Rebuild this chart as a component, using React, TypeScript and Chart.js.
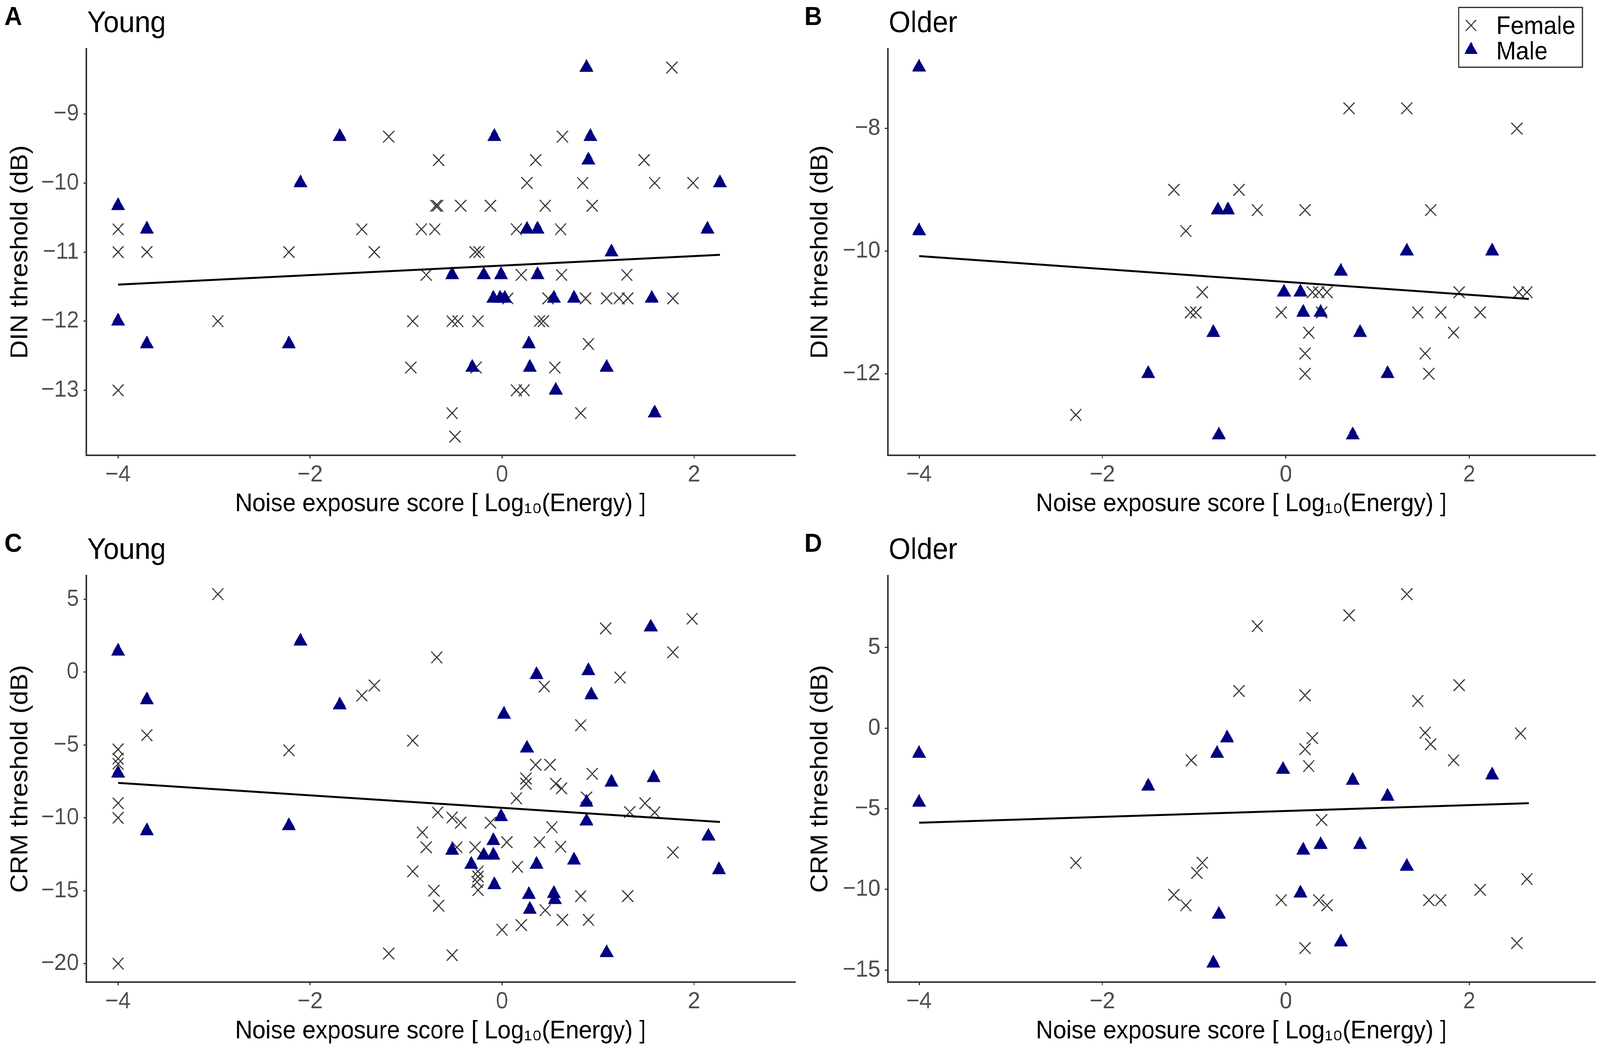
import React, { useEffect, useRef } from "react";
import { Chart, registerables } from "chart.js";

Chart.register(...registerables);

type Pt = [number, number];

// shared x axis
const xTicks = [-4, -2, 0, 2];
const xTitle = "Noise exposure score [ Log\u2081\u2080(Energy) ]";

// A: DIN, young
const dinYoungTicks = [-13, -12, -11, -10, -9];
const dinYoungMale: Pt[] = [
  [0.88, -8.33], [-1.69, -9.33], [-0.08, -9.33], [0.92, -9.33], [0.9, -9.67],
  [-2.1, -10], [2.27, -10], [-4, -10.33], [-3.7, -10.67], [0.26, -10.67],
  [0.37, -10.67], [2.14, -10.67], [1.14, -11], [-0.52, -11.33], [-0.19, -11.33],
  [-0.01, -11.33], [0.37, -11.33], [-0.09, -11.67], [-0.02, -11.67], [0.03, -11.67],
  [0.54, -11.67], [0.75, -11.67], [1.56, -11.67], [-4, -12], [-3.7, -12.33],
  [-2.22, -12.33], [0.28, -12.33], [-0.31, -12.67], [0.29, -12.67], [1.09, -12.67],
  [0.56, -13], [1.59, -13.33],
];
const dinYoungFemale: Pt[] = [
  [1.77, -8.33], [-1.18, -9.33], [0.63, -9.33], [-0.66, -9.67], [0.35, -9.67],
  [1.48, -9.67], [0.26, -10], [0.84, -10], [1.59, -10], [1.99, -10],
  [-0.67, -10.33], [-0.69, -10.33], [-0.43, -10.33], [-0.12, -10.33], [0.45, -10.33],
  [0.94, -10.33], [-4, -10.67], [-1.46, -10.67], [-0.84, -10.67], [-0.7, -10.67],
  [0.15, -10.67], [0.61, -10.67], [-4, -11], [-3.7, -11], [-2.22, -11],
  [-1.33, -11], [-0.28, -11], [-0.24, -11], [-0.79, -11.33], [0.2, -11.33],
  [0.62, -11.33], [1.3, -11.33], [0.06, -11.67], [0.48, -11.67], [0.87, -11.67],
  [1.09, -11.67], [1.22, -11.67], [1.31, -11.67], [1.78, -11.67], [-2.96, -12],
  [-0.93, -12], [-0.52, -12], [-0.46, -12], [-0.25, -12], [0.39, -12],
  [0.43, -12], [0.9, -12.33], [-0.95, -12.67], [-0.27, -12.67], [0.55, -12.67],
  [-4, -13], [0.15, -13], [0.23, -13], [-0.52, -13.33], [0.82, -13.33],
  [-0.49, -13.67],
];
const dinYoungFit: Pt[] = [[-4, -11.47], [2.27, -11.04]];

// B: DIN, older
const dinOlderTicks = [-12, -10, -8];
const dinOlderMale: Pt[] = [
  [-4, -7], [-4, -9.67], [-0.74, -9.33], [-0.63, -9.33], [1.32, -10],
  [2.25, -10], [0.6, -10.33], [-0.02, -10.67], [0.16, -10.67], [0.19, -11],
  [0.38, -11], [-0.79, -11.33], [0.81, -11.33], [-1.5, -12], [1.11, -12],
  [-0.73, -13], [0.73, -13],
];
const dinOlderFemale: Pt[] = [
  [0.69, -7.67], [1.32, -7.67], [2.52, -8], [-1.22, -9], [-0.51, -9],
  [-0.31, -9.33], [0.21, -9.33], [1.58, -9.33], [-1.09, -9.67], [-0.91, -10.67],
  [0.29, -10.67], [0.36, -10.67], [0.45, -10.67], [1.89, -10.67], [2.54, -10.67],
  [2.63, -10.67], [-1.04, -11], [-0.98, -11], [-0.05, -11], [0.39, -11],
  [1.44, -11], [1.69, -11], [2.12, -11], [0.25, -11.33], [1.83, -11.33],
  [0.21, -11.67], [1.52, -11.67], [0.21, -12], [1.56, -12], [-2.29, -12.67],
];
const dinOlderFit: Pt[] = [[-4, -10.08], [2.65, -10.78]];

// C: CRM, young
const crmYoungTicks = [-20, -15, -10, -5, 0, 5];
const crmYoungMale: Pt[] = [
  [-4, 1.43], [-2.1, 2.12], [1.55, 3.09], [0.36, -0.18], [0.9, 0.09],
  [-3.7, -1.91], [0.93, -1.57], [-1.69, -2.26], [0.02, -2.9], [0.26, -5.22],
  [-4, -6.94], [1.58, -7.25], [1.14, -7.56], [0.88, -8.94], [-0.01, -9.93],
  [0.88, -10.23], [-2.22, -10.55], [-3.7, -10.9], [2.15, -11.26], [-0.09, -11.57],
  [-0.52, -12.24], [-0.19, -12.57], [-0.09, -12.57], [0.75, -12.91], [-0.32, -13.2],
  [0.36, -13.2], [2.26, -13.57], [-0.08, -14.6], [0.28, -15.27], [0.54, -15.2],
  [0.55, -15.62], [0.29, -16.29], [1.09, -19.26],
];
const crmYoungFemale: Pt[] = [
  [-2.96, 5.35], [1.98, 3.66], [1.08, 3.0], [1.78, 1.36], [-0.68, 1.01],
  [1.23, -0.37], [0.44, -0.99], [-1.33, -0.92], [-1.46, -1.61], [0.82, -3.64],
  [-3.7, -4.33], [-0.93, -4.7], [-2.22, -5.37], [-4, -5.3], [-4, -5.94],
  [-4, -6.29], [0.35, -6.36], [0.5, -6.36], [0.94, -6.98], [0.25, -7.3],
  [0.25, -7.66], [0.56, -7.66], [0.62, -7.98], [0.15, -8.66], [0.88, -8.6],
  [-4, -8.99], [1.49, -9.0], [1.33, -9.6], [1.59, -9.63], [-0.67, -9.63],
  [-4, -10.0], [-0.52, -9.98], [-0.43, -10.33], [-0.12, -10.33], [0.52, -10.64],
  [-0.83, -11.0], [0.05, -11.67], [0.39, -11.67], [-0.79, -12.02], [-0.47, -12.02],
  [-0.28, -12.02], [0.61, -11.98], [1.78, -12.37], [0.16, -13.36], [-0.93, -13.67],
  [-0.25, -13.67], [-0.25, -14.03], [-0.26, -14.4], [-0.25, -14.96], [-0.71, -15.0],
  [0.82, -15.37], [1.31, -15.37], [-0.66, -16.03], [0.45, -16.34], [0.63, -17.0],
  [0.9, -17.0], [0.2, -17.36], [0.0, -17.68], [-1.18, -19.31], [-0.52, -19.42],
  [-4, -20.0],
];
const crmYoungFit: Pt[] = [[-4, -7.6], [2.27, -10.28]];

// D: CRM, older
const crmOlderTicks = [-15, -10, -5, 0, 5];
const crmOlderMale: Pt[] = [
  [-4, -1.58], [-4, -4.61], [-0.64, -0.62], [-0.75, -1.58], [-0.03, -2.57],
  [-1.5, -3.61], [2.25, -2.92], [0.73, -3.25], [1.11, -4.24], [0.38, -7.23],
  [0.81, -7.23], [0.19, -7.58], [1.32, -8.58], [0.16, -10.24], [-0.73, -11.55],
  [0.6, -13.27], [-0.79, -14.58],
];
const crmOlderFemale: Pt[] = [
  [1.32, 8.3], [0.69, 6.99], [-0.31, 6.32], [1.89, 2.66], [-0.51, 2.3],
  [0.21, 2.03], [1.44, 1.68], [1.52, -0.29], [2.56, -0.33], [0.29, -0.62],
  [1.58, -1.0], [0.21, -1.31], [-1.03, -2.0], [1.83, -2.0], [0.25, -2.36],
  [0.39, -5.7], [-2.29, -8.35], [-0.91, -8.35], [-0.97, -8.98], [2.63, -9.36],
  [2.12, -10.03], [-1.22, -10.34], [-0.05, -10.67], [0.36, -10.67], [1.56, -10.67],
  [1.69, -10.67], [-1.09, -10.99], [0.45, -10.99], [2.52, -13.33], [0.21, -13.64],
];
const crmOlderFit: Pt[] = [[-4, -5.87], [2.65, -4.66]];

const FONT = "'Liberation Sans', Arial, Helvetica, sans-serif";
const NAVY = "#000080";
const CROSS = "#3a3a3a";
const AXIS = "#333333";
const PAGE_W = 4316;
const PAGE_H = 2697;

const panelText = {
  id: "panelText",
  afterDraw(chart: any, _args: any, opts: any) {
    const ctx = chart.ctx as CanvasRenderingContext2D;
    ctx.save();
    ctx.fillStyle = "#000";
    ctx.textBaseline = "alphabetic";
    ctx.textAlign = "left";
    ctx.font = `bold 66px ${FONT}`;
    ctx.fillText(opts.letter, 12, 64);
    ctx.font = `76px ${FONT}`;
    ctx.fillText(opts.title, chart.chartArea.left + 2, 82);
    if (opts.legend) {
      // legend box, top right as in ggplot
      ctx.strokeStyle = "#222";
      ctx.lineWidth = 3;
      ctx.strokeRect(1777, 19, 334, 153);
      ctx.strokeStyle = CROSS;
      ctx.lineWidth = 3;
      ctx.beginPath();
      ctx.moveTo(1796, 51);
      ctx.lineTo(1824, 79);
      ctx.moveTo(1824, 51);
      ctx.lineTo(1796, 79);
      ctx.stroke();
      ctx.fillStyle = NAVY;
      ctx.beginPath();
      ctx.moveTo(1810, 107);
      ctx.lineTo(1828, 138);
      ctx.lineTo(1792, 138);
      ctx.closePath();
      ctx.fill();
      ctx.fillStyle = "#000";
      ctx.font = `64px ${FONT}`;
      ctx.fillText("Female", 1878, 87);
      ctx.fillText("Male", 1878, 152);
    }
    ctx.restore();
  },
};

type PanelProps = {
  letter: string;
  title: string;
  yTitle: string;
  female: Pt[];
  male: Pt[];
  fit: Pt[];
  yTicks: number[];
  yMin: number;
  yMax: number;
  xMin: number;
  xMax: number;
  left: number;
  height: number;
  legend?: boolean;
};

const toXY = (pts: Pt[]) => pts.map(([x, y]) => ({ x, y }));
const fmt = (v: number | string) => String(v).replace("-", "\u2212");

function Panel(p: PanelProps) {
  const chartRef = useRef<HTMLCanvasElement | null>(null);

  useEffect(() => {
    if (!chartRef.current) {
      return;
    }
    const chartInstance = new Chart(chartRef.current, {
      type: "scatter",
      data: {
        datasets: [
          {
            label: "fit",
            data: toXY(p.fit),
            showLine: true,
            borderColor: "#000",
            borderWidth: 5,
            pointRadius: 0,
            order: 0,
          },
          {
            label: "Male",
            data: toXY(p.male),
            pointStyle: "triangle",
            pointRadius: 21,
            backgroundColor: NAVY,
            borderColor: NAVY,
            borderWidth: 1,
            order: 1,
          },
          {
            label: "Female",
            data: toXY(p.female),
            pointStyle: "crossRot",
            pointRadius: 21,
            borderColor: CROSS,
            borderWidth: 3,
            order: 2,
          },
        ],
      },
      options: {
        animation: false,
        responsive: true,
        maintainAspectRatio: false,
        events: [],
        layout: {
          autoPadding: false,
          padding: { top: 125, right: 14, left: 0, bottom: 0 },
        },
        plugins: {
          legend: { display: false },
          tooltip: { enabled: false },
          // @ts-ignore
          panelText: { letter: p.letter, title: p.title, legend: !!p.legend },
        },
        scales: {
          x: {
            type: "linear",
            min: p.xMin,
            max: p.xMax,
            afterBuildTicks: (axis: any) => {
              axis.ticks = xTicks.map((value) => ({ value }));
            },
            afterFit: (scale: any) => {
              scale.height = p.height - 1165;
            },
            grid: {
              display: true,
              drawOnChartArea: false,
              drawTicks: true,
              tickLength: 8,
              color: AXIS,
              lineWidth: 3,
            },
            border: { display: true, color: AXIS, width: 4 },
            ticks: {
              color: "#4D4D4D",
              font: { family: FONT, size: 60, lineHeight: 1 },
              padding: 12,
              maxRotation: 0,
              callback: (v: any) => fmt(v),
            },
            title: {
              display: true,
              text: xTitle,
              color: "#000",
              font: { family: FONT, size: 64, lineHeight: 1.2 },
              padding: { top: 0, bottom: 19 },
            },
          },
          y: {
            type: "linear",
            min: p.yMin,
            max: p.yMax,
            afterBuildTicks: (axis: any) => {
              axis.ticks = p.yTicks.map((value) => ({ value }));
            },
            afterFit: (scale: any) => {
              scale.width = p.left;
            },
            grid: {
              display: true,
              drawOnChartArea: false,
              drawTicks: true,
              tickLength: 8,
              color: AXIS,
              lineWidth: 3,
            },
            border: { display: true, color: AXIS, width: 4 },
            ticks: {
              color: "#4D4D4D",
              font: { family: FONT, size: 60, lineHeight: 1 },
              padding: 12,
              callback: (v: any) => fmt(v),
            },
            title: {
              display: true,
              text: p.yTitle,
              color: "#000",
              font: { family: FONT, size: 66, lineHeight: 1.2 },
              padding: { top: 16, bottom: 0 },
            },
          },
        },
      },
      plugins: [panelText as any],
    });
    return () => {
      chartInstance.destroy();
    };
  }, [chartRef]);

  return (
    <div style={{ position: "relative", width: 2158, height: p.height }}>
      <canvas ref={chartRef}></canvas>
    </div>
  );
}

export default function App() {
  // the figure is laid out at 4316x2697 and stretched to fill the viewport
  const kx = window.innerWidth / PAGE_W;
  const ky = window.innerHeight / PAGE_H;
  return (
    <div
      style={{
        position: "absolute",
        left: 0,
        top: 0,
        width: PAGE_W * kx,
        height: PAGE_H * ky,
        overflow: "hidden",
        background: "#fff",
      }}
    >
      <div
        style={{
          width: PAGE_W,
          height: PAGE_H,
          display: "grid",
          gridTemplateColumns: "2158px 2158px",
          gridTemplateRows: "1348px 1349px",
          transform: `scale(${kx}, ${ky})`,
          transformOrigin: "0 0",
        }}
      >
        <Panel
          letter="A"
          title="Young"
          yTitle="DIN threshold (dB)"
          female={dinYoungFemale}
          male={dinYoungMale}
          fit={dinYoungFit}
          yTicks={dinYoungTicks}
          yMin={-13.94}
          yMax={-8.06}
          xMin={-4.33}
          xMax={3.05}
          left={233}
          height={1348}
        />
        <Panel
          letter="B"
          title="Older"
          yTitle="DIN threshold (dB)"
          female={dinOlderFemale}
          male={dinOlderMale}
          fit={dinOlderFit}
          yTicks={dinOlderTicks}
          yMin={-13.33}
          yMax={-6.7}
          xMin={-4.34}
          xMax={3.37}
          left={237}
          height={1348}
          legend
        />
        <Panel
          letter="C"
          title="Young"
          yTitle="CRM threshold (dB)"
          female={crmYoungFemale}
          male={crmYoungMale}
          fit={crmYoungFit}
          yTicks={crmYoungTicks}
          yMin={-21.27}
          yMax={6.62}
          xMin={-4.33}
          xMax={3.05}
          left={233}
          height={1349}
        />
        <Panel
          letter="D"
          title="Older"
          yTitle="CRM threshold (dB)"
          female={crmOlderFemale}
          male={crmOlderMale}
          fit={crmOlderFit}
          yTicks={crmOlderTicks}
          yMin={-15.75}
          yMax={9.45}
          xMin={-4.34}
          xMax={3.37}
          left={237}
          height={1349}
        />
      </div>
    </div>
  );
}
